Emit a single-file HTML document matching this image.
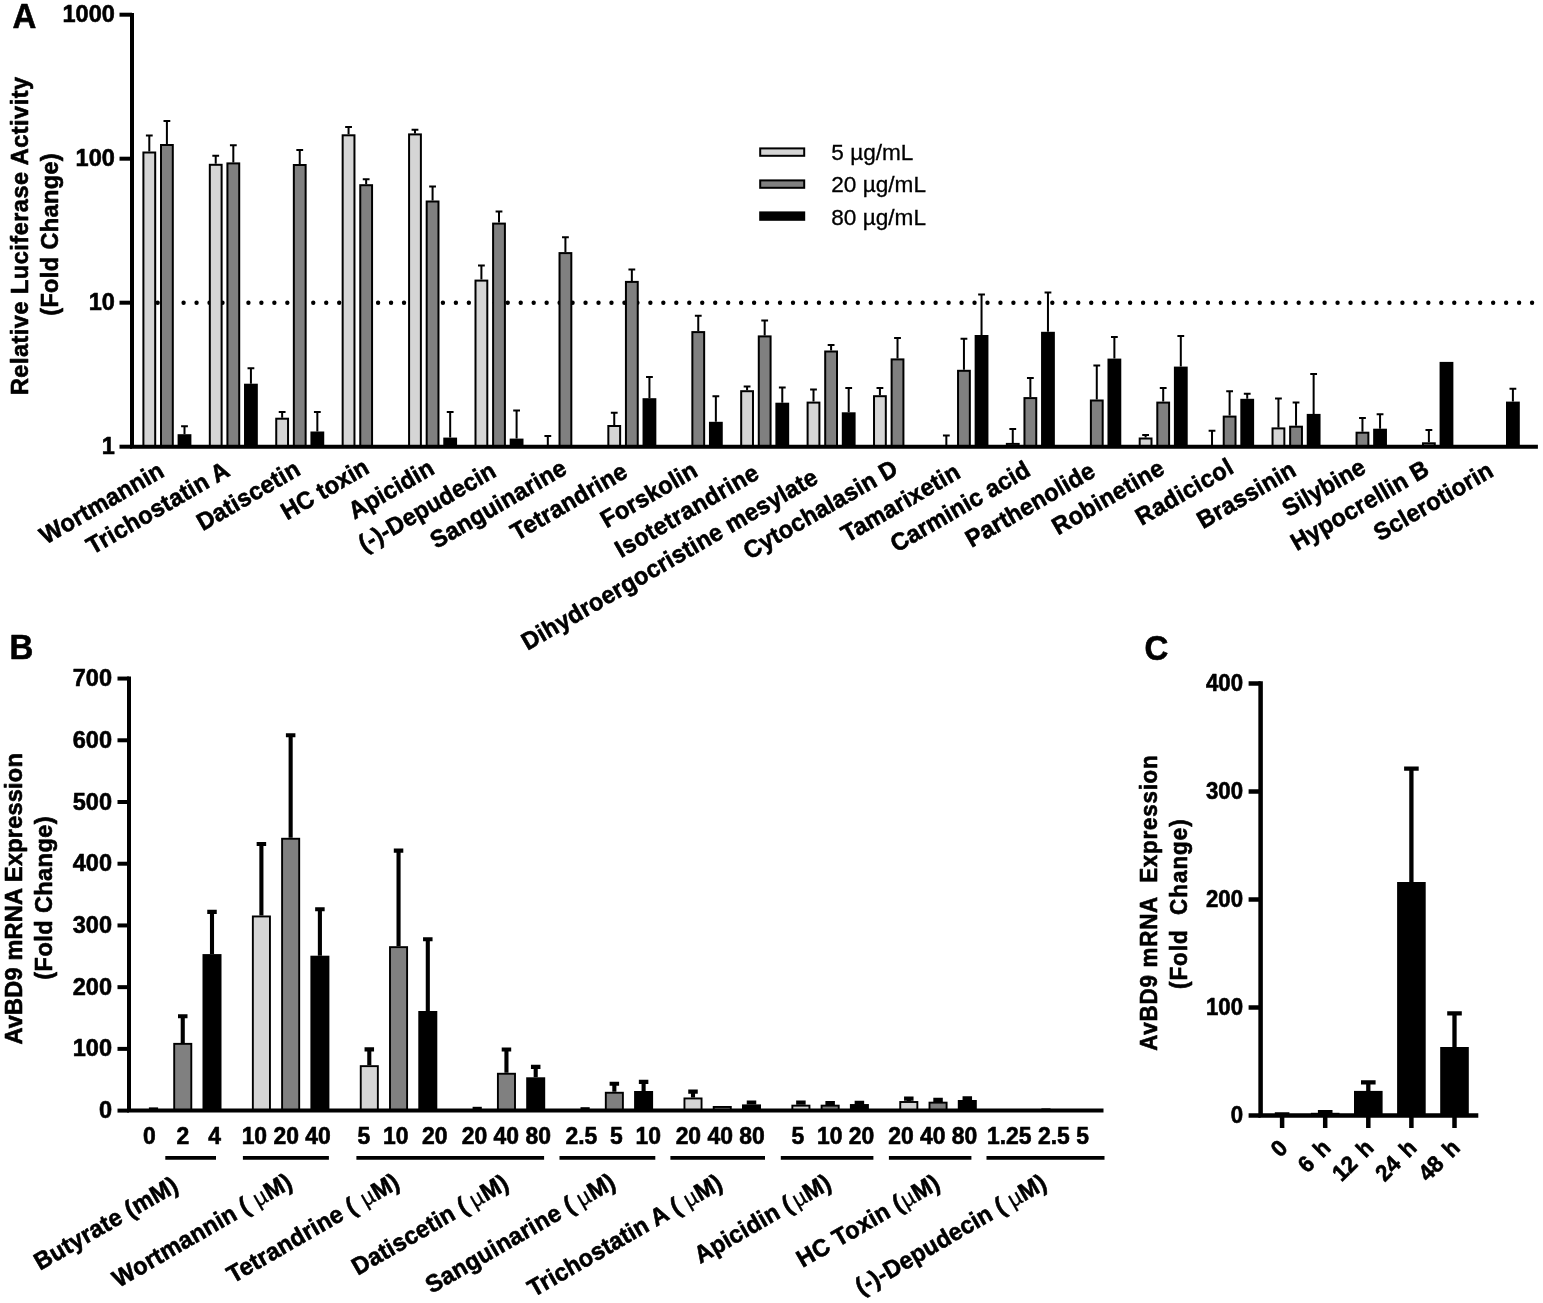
<!DOCTYPE html>
<html lang="en">
<head>
<meta charset="utf-8">
<title>Figure: luciferase activity and AvBD9 mRNA expression</title>
<style>
html,body{margin:0;padding:0;background:#fff;}
body{width:1543px;height:1303px;overflow:hidden;}
svg{display:block;}
text{font-family:"Liberation Sans", Arial, Helvetica, sans-serif;fill:#000;}
.b{font-weight:bold;}
.r{font-weight:normal;}
.b{stroke:#000;stroke-width:0.6px;stroke-linejoin:round;}
.r{stroke:#000;stroke-width:0.3px;}
.tk{font-size:23.5px;}
.tb{font-size:22.9px;}
.ti{font-size:23.5px;}
.tic{font-size:22.4px;}
.ck{font-size:22.2px;}
.cx{word-spacing:3px;}
.xl{font-size:23.5px;}
.lg{font-size:22.6px;}
.mu{font-size:22.5px;}
.pl{font-size:33px;}
</style>
</head>
<body>
<svg width="1543" height="1303" viewBox="0 0 1543 1303">
<rect width="1543" height="1303" fill="#fff"/>
<g id="panelA">
<line x1="157.67" y1="302.7" x2="1533" y2="302.7" stroke="#000" stroke-width="4.4" stroke-linecap="round" stroke-dasharray="0 12.966"/>
<path d="M149.3 151.5V135.4M145.9 135.4H152.7" stroke="#000" stroke-width="2.0" fill="none"/>
<rect x="143.4" y="152.5" width="11.8" height="294.2" fill="#d5d5d5" stroke="#000" stroke-width="2.0"/>
<path d="M166.9 144V120.9M163.5 120.9H170.3" stroke="#000" stroke-width="2.0" fill="none"/>
<rect x="161" y="145" width="11.8" height="301.7" fill="#808080" stroke="#000" stroke-width="2.0"/>
<path d="M184.5 434.2V426.3M181.1 426.3H187.9" stroke="#000" stroke-width="2.0" fill="none"/>
<rect x="178.6" y="435.2" width="11.8" height="11.5" fill="#000" stroke="#000" stroke-width="2.0"/>
<path d="M215.72 163.8V155.8M212.32 155.8H219.12" stroke="#000" stroke-width="2.0" fill="none"/>
<rect x="209.82" y="164.8" width="11.8" height="281.9" fill="#d5d5d5" stroke="#000" stroke-width="2.0"/>
<path d="M233.32 162.4V145.2M229.92 145.2H236.72" stroke="#000" stroke-width="2.0" fill="none"/>
<rect x="227.42" y="163.4" width="11.8" height="283.3" fill="#808080" stroke="#000" stroke-width="2.0"/>
<path d="M250.92 383.7V368.3M247.52 368.3H254.32" stroke="#000" stroke-width="2.0" fill="none"/>
<rect x="245.02" y="384.7" width="11.8" height="62" fill="#000" stroke="#000" stroke-width="2.0"/>
<path d="M282.14 417.7V412M278.74 412H285.54" stroke="#000" stroke-width="2.0" fill="none"/>
<rect x="276.24" y="418.7" width="11.8" height="28" fill="#d5d5d5" stroke="#000" stroke-width="2.0"/>
<path d="M299.74 164V150.1M296.34 150.1H303.14" stroke="#000" stroke-width="2.0" fill="none"/>
<rect x="293.84" y="165" width="11.8" height="281.7" fill="#808080" stroke="#000" stroke-width="2.0"/>
<path d="M317.34 431.5V412M313.94 412H320.74" stroke="#000" stroke-width="2.0" fill="none"/>
<rect x="311.44" y="432.5" width="11.8" height="14.2" fill="#000" stroke="#000" stroke-width="2.0"/>
<path d="M348.56 134.3V127M345.16 127H351.96" stroke="#000" stroke-width="2.0" fill="none"/>
<rect x="342.66" y="135.3" width="11.8" height="311.4" fill="#d5d5d5" stroke="#000" stroke-width="2.0"/>
<path d="M366.16 184.2V179.2M362.76 179.2H369.56" stroke="#000" stroke-width="2.0" fill="none"/>
<rect x="360.26" y="185.2" width="11.8" height="261.5" fill="#808080" stroke="#000" stroke-width="2.0"/>
<path d="M414.98 133.4V129.7M411.58 129.7H418.38" stroke="#000" stroke-width="2.0" fill="none"/>
<rect x="409.08" y="134.4" width="11.8" height="312.3" fill="#d5d5d5" stroke="#000" stroke-width="2.0"/>
<path d="M432.58 200.5V186.4M429.18 186.4H435.98" stroke="#000" stroke-width="2.0" fill="none"/>
<rect x="426.68" y="201.5" width="11.8" height="245.2" fill="#808080" stroke="#000" stroke-width="2.0"/>
<path d="M450.18 437.6V412M446.78 412H453.58" stroke="#000" stroke-width="2.0" fill="none"/>
<rect x="444.28" y="438.6" width="11.8" height="8.1" fill="#000" stroke="#000" stroke-width="2.0"/>
<path d="M481.4 279.6V265.6M478 265.6H484.8" stroke="#000" stroke-width="2.0" fill="none"/>
<rect x="475.5" y="280.6" width="11.8" height="166.1" fill="#d5d5d5" stroke="#000" stroke-width="2.0"/>
<path d="M499 222.6V211.5M495.6 211.5H502.4" stroke="#000" stroke-width="2.0" fill="none"/>
<rect x="493.1" y="223.6" width="11.8" height="223.1" fill="#808080" stroke="#000" stroke-width="2.0"/>
<path d="M516.6 438.6V410.6M513.2 410.6H520" stroke="#000" stroke-width="2.0" fill="none"/>
<rect x="510.7" y="439.6" width="11.8" height="7.1" fill="#000" stroke="#000" stroke-width="2.0"/>
<path d="M547.82 446.7V436M544.42 436H551.22" stroke="#000" stroke-width="2.0" fill="none"/>
<path d="M565.42 252.1V237.2M562.02 237.2H568.82" stroke="#000" stroke-width="2.0" fill="none"/>
<rect x="559.52" y="253.1" width="11.8" height="193.6" fill="#808080" stroke="#000" stroke-width="2.0"/>
<path d="M614.24 425V412.8M610.84 412.8H617.64" stroke="#000" stroke-width="2.0" fill="none"/>
<rect x="608.34" y="426" width="11.8" height="20.7" fill="#d5d5d5" stroke="#000" stroke-width="2.0"/>
<path d="M631.84 280.9V269.5M628.44 269.5H635.24" stroke="#000" stroke-width="2.0" fill="none"/>
<rect x="625.94" y="281.9" width="11.8" height="164.8" fill="#808080" stroke="#000" stroke-width="2.0"/>
<path d="M649.44 398.2V376.9M646.04 376.9H652.84" stroke="#000" stroke-width="2.0" fill="none"/>
<rect x="643.54" y="399.2" width="11.8" height="47.5" fill="#000" stroke="#000" stroke-width="2.0"/>
<path d="M698.26 331.1V315.7M694.86 315.7H701.66" stroke="#000" stroke-width="2.0" fill="none"/>
<rect x="692.36" y="332.1" width="11.8" height="114.6" fill="#808080" stroke="#000" stroke-width="2.0"/>
<path d="M715.86 421.8V396.2M712.46 396.2H719.26" stroke="#000" stroke-width="2.0" fill="none"/>
<rect x="709.96" y="422.8" width="11.8" height="23.9" fill="#000" stroke="#000" stroke-width="2.0"/>
<path d="M747.08 390.2V386.6M743.68 386.6H750.48" stroke="#000" stroke-width="2.0" fill="none"/>
<rect x="741.18" y="391.2" width="11.8" height="55.5" fill="#d5d5d5" stroke="#000" stroke-width="2.0"/>
<path d="M764.68 335.4V320.4M761.28 320.4H768.08" stroke="#000" stroke-width="2.0" fill="none"/>
<rect x="758.78" y="336.4" width="11.8" height="110.3" fill="#808080" stroke="#000" stroke-width="2.0"/>
<path d="M782.28 402.7V387.6M778.88 387.6H785.68" stroke="#000" stroke-width="2.0" fill="none"/>
<rect x="776.38" y="403.7" width="11.8" height="43" fill="#000" stroke="#000" stroke-width="2.0"/>
<path d="M813.5 401.6V389.6M810.1 389.6H816.9" stroke="#000" stroke-width="2.0" fill="none"/>
<rect x="807.6" y="402.6" width="11.8" height="44.1" fill="#d5d5d5" stroke="#000" stroke-width="2.0"/>
<path d="M831.1 350.5V345.1M827.7 345.1H834.5" stroke="#000" stroke-width="2.0" fill="none"/>
<rect x="825.2" y="351.5" width="11.8" height="95.2" fill="#808080" stroke="#000" stroke-width="2.0"/>
<path d="M848.7 412.3V387.9M845.3 387.9H852.1" stroke="#000" stroke-width="2.0" fill="none"/>
<rect x="842.8" y="413.3" width="11.8" height="33.4" fill="#000" stroke="#000" stroke-width="2.0"/>
<path d="M879.92 395.2V387.9M876.52 387.9H883.32" stroke="#000" stroke-width="2.0" fill="none"/>
<rect x="874.02" y="396.2" width="11.8" height="50.5" fill="#d5d5d5" stroke="#000" stroke-width="2.0"/>
<path d="M897.52 358.4V338M894.12 338H900.92" stroke="#000" stroke-width="2.0" fill="none"/>
<rect x="891.62" y="359.4" width="11.8" height="87.3" fill="#808080" stroke="#000" stroke-width="2.0"/>
<path d="M946.34 446.7V435.5M942.94 435.5H949.74" stroke="#000" stroke-width="2.0" fill="none"/>
<path d="M963.94 369.8V338.7M960.54 338.7H967.34" stroke="#000" stroke-width="2.0" fill="none"/>
<rect x="958.04" y="370.8" width="11.8" height="75.9" fill="#808080" stroke="#000" stroke-width="2.0"/>
<path d="M981.54 335V294.6M978.14 294.6H984.94" stroke="#000" stroke-width="2.0" fill="none"/>
<rect x="975.64" y="336" width="11.8" height="110.7" fill="#000" stroke="#000" stroke-width="2.0"/>
<path d="M1012.76 442.9V428.9M1009.36 428.9H1016.16" stroke="#000" stroke-width="2.0" fill="none"/>
<rect x="1006.86" y="443.9" width="11.8" height="2.8" fill="#d5d5d5" stroke="#000" stroke-width="2.0"/>
<path d="M1030.36 397.1V378M1026.96 378H1033.76" stroke="#000" stroke-width="2.0" fill="none"/>
<rect x="1024.46" y="398.1" width="11.8" height="48.6" fill="#808080" stroke="#000" stroke-width="2.0"/>
<path d="M1047.96 331.8V292.5M1044.56 292.5H1051.36" stroke="#000" stroke-width="2.0" fill="none"/>
<rect x="1042.06" y="332.8" width="11.8" height="113.9" fill="#000" stroke="#000" stroke-width="2.0"/>
<path d="M1096.78 399.5V365.5M1093.38 365.5H1100.18" stroke="#000" stroke-width="2.0" fill="none"/>
<rect x="1090.88" y="400.5" width="11.8" height="46.2" fill="#808080" stroke="#000" stroke-width="2.0"/>
<path d="M1114.38 358.6V336.9M1110.98 336.9H1117.78" stroke="#000" stroke-width="2.0" fill="none"/>
<rect x="1108.48" y="359.6" width="11.8" height="87.1" fill="#000" stroke="#000" stroke-width="2.0"/>
<path d="M1145.6 437.5V435.1M1142.2 435.1H1149" stroke="#000" stroke-width="2.0" fill="none"/>
<rect x="1139.7" y="438.5" width="11.8" height="8.2" fill="#d5d5d5" stroke="#000" stroke-width="2.0"/>
<path d="M1163.2 401.6V388.1M1159.8 388.1H1166.6" stroke="#000" stroke-width="2.0" fill="none"/>
<rect x="1157.3" y="402.6" width="11.8" height="44.1" fill="#808080" stroke="#000" stroke-width="2.0"/>
<path d="M1180.8 366.6V336.1M1177.4 336.1H1184.2" stroke="#000" stroke-width="2.0" fill="none"/>
<rect x="1174.9" y="367.6" width="11.8" height="79.1" fill="#000" stroke="#000" stroke-width="2.0"/>
<path d="M1212.02 446.7V430.8M1208.62 430.8H1215.42" stroke="#000" stroke-width="2.0" fill="none"/>
<path d="M1229.62 415.6V391.3M1226.22 391.3H1233.02" stroke="#000" stroke-width="2.0" fill="none"/>
<rect x="1223.72" y="416.6" width="11.8" height="30.1" fill="#808080" stroke="#000" stroke-width="2.0"/>
<path d="M1247.22 398.8V393.7M1243.82 393.7H1250.62" stroke="#000" stroke-width="2.0" fill="none"/>
<rect x="1241.32" y="399.8" width="11.8" height="46.9" fill="#000" stroke="#000" stroke-width="2.0"/>
<path d="M1278.44 427.4V398.4M1275.04 398.4H1281.84" stroke="#000" stroke-width="2.0" fill="none"/>
<rect x="1272.54" y="428.4" width="11.8" height="18.3" fill="#d5d5d5" stroke="#000" stroke-width="2.0"/>
<path d="M1296.04 425.7V402.5M1292.64 402.5H1299.44" stroke="#000" stroke-width="2.0" fill="none"/>
<rect x="1290.14" y="426.7" width="11.8" height="20" fill="#808080" stroke="#000" stroke-width="2.0"/>
<path d="M1313.64 413.9V374.1M1310.24 374.1H1317.04" stroke="#000" stroke-width="2.0" fill="none"/>
<rect x="1307.74" y="414.9" width="11.8" height="31.8" fill="#000" stroke="#000" stroke-width="2.0"/>
<path d="M1362.46 431.7V418.1M1359.06 418.1H1365.86" stroke="#000" stroke-width="2.0" fill="none"/>
<rect x="1356.56" y="432.7" width="11.8" height="14" fill="#808080" stroke="#000" stroke-width="2.0"/>
<path d="M1380.06 428.7V414.3M1376.66 414.3H1383.46" stroke="#000" stroke-width="2.0" fill="none"/>
<rect x="1374.16" y="429.7" width="11.8" height="17" fill="#000" stroke="#000" stroke-width="2.0"/>
<path d="M1428.88 442.3V430M1425.48 430H1432.28" stroke="#000" stroke-width="2.0" fill="none"/>
<rect x="1422.98" y="443.3" width="11.8" height="3.4" fill="#808080" stroke="#000" stroke-width="2.0"/>
<rect x="1440.58" y="362.9" width="11.8" height="83.8" fill="#000" stroke="#000" stroke-width="2.0"/>
<path d="M1512.9 401.6V388.7M1509.5 388.7H1516.3" stroke="#000" stroke-width="2.0" fill="none"/>
<rect x="1507" y="402.6" width="11.8" height="44.1" fill="#000" stroke="#000" stroke-width="2.0"/>
<path d="M132.0 12.9V448.7M130.0 446.7H1537.9" stroke="#000" stroke-width="4.0" fill="none"/>
<line x1="119.5" y1="446.7" x2="132.0" y2="446.7" stroke="#000" stroke-width="4.0"/>
<text transform="translate(114.8,453.7) scale(1,1.04)" text-anchor="end" class="b tk" id="t1">1</text>
<line x1="119.5" y1="302.7" x2="132.0" y2="302.7" stroke="#000" stroke-width="4.0"/>
<text transform="translate(114.8,309.7) scale(1,1.04)" text-anchor="end" class="b tk" id="t2">10</text>
<line x1="119.5" y1="158.7" x2="132.0" y2="158.7" stroke="#000" stroke-width="4.0"/>
<text transform="translate(114.8,165.7) scale(1,1.04)" text-anchor="end" class="b tk" id="t3">100</text>
<line x1="119.5" y1="14.7" x2="132.0" y2="14.7" stroke="#000" stroke-width="4.0"/>
<text transform="translate(114.8,21.7) scale(1,1.04)" text-anchor="end" class="b tk" id="t4">1000</text>
<text transform="translate(27.95,235.78) rotate(-90) scale(1,1.04)" text-anchor="middle" class="b ti" id="YA1" style="letter-spacing:0.5px">Relative Luciferase Activity</text>
<text transform="translate(58.3,234.4) rotate(-90) scale(1,1.04)" text-anchor="middle" class="b ti" id="YA2" style="letter-spacing:0.38px">(Fold Change)</text>
<text transform="translate(165.9,475.35) rotate(-30) scale(1,1.04)" text-anchor="end" class="b xl" id="A0" style="letter-spacing:0.2px">Wortmannin</text>
<text transform="translate(231.42,474.87) rotate(-30) scale(1,1.04)" text-anchor="end" class="b xl" id="A1" style="letter-spacing:0.33px">Trichostatin A</text>
<text transform="translate(302.14,473.8) rotate(-30) scale(1,1.04)" text-anchor="end" class="b xl" id="A2" style="letter-spacing:0.26px">Datiscetin</text>
<text transform="translate(370.76,472.12) rotate(-30) scale(1,1.04)" text-anchor="end" class="b xl" id="A3">HC toxin</text>
<text transform="translate(435.98,472.82) rotate(-30) scale(1,1.04)" text-anchor="end" class="b xl" id="A4" style="letter-spacing:0.17px">Apicidin</text>
<text transform="translate(497.8,475.47) rotate(-30) scale(1,1.04)" text-anchor="end" class="b xl" id="A5" style="letter-spacing:0.19px">(-)-Depudecin</text>
<text transform="translate(568.52,472.8) rotate(-30) scale(1,1.04)" text-anchor="end" class="b xl" id="A6" style="letter-spacing:0.32px">Sanguinarine</text>
<text transform="translate(629.34,476.22) rotate(-30) scale(1,1.04)" text-anchor="end" class="b xl" id="A7" style="letter-spacing:0.23px">Tetrandrine</text>
<text transform="translate(699.26,475.07) rotate(-30) scale(1,1.04)" text-anchor="end" class="b xl" id="A8" style="letter-spacing:0.14px">Forskolin</text>
<text transform="translate(760.88,477.43) rotate(-30) scale(1,1.04)" text-anchor="end" class="b xl" id="A9" style="letter-spacing:0.35px">Isotetrandrine</text>
<text transform="translate(819.9,482.05) rotate(-30) scale(1,1.04)" text-anchor="end" class="b xl" id="A10" style="letter-spacing:0.26px">Dihydroergocristine mesylate</text>
<text transform="translate(899.72,473.14) rotate(-30) scale(1,1.04)" text-anchor="end" class="b xl" id="A11" style="letter-spacing:0.27px">Cytochalasin D</text>
<text transform="translate(962.04,476.68) rotate(-30) scale(1,1.04)" text-anchor="end" class="b xl" id="A12" style="letter-spacing:0.23px">Tamarixetin</text>
<text transform="translate(1032.16,474.55) rotate(-30) scale(1,1.04)" text-anchor="end" class="b xl" id="A13" style="letter-spacing:0.19px">Carminic acid</text>
<text transform="translate(1096.98,475.58) rotate(-30) scale(1,1.04)" text-anchor="end" class="b xl" id="A14" style="letter-spacing:0.21px">Parthenolide</text>
<text transform="translate(1166.4,472.85) rotate(-30) scale(1,1.04)" text-anchor="end" class="b xl" id="A15" style="letter-spacing:0.39px">Robinetine</text>
<text transform="translate(1235.42,471.78) rotate(-30) scale(1,1.04)" text-anchor="end" class="b xl" id="A16" style="letter-spacing:0.43px">Radicicol</text>
<text transform="translate(1298.04,474.49) rotate(-30) scale(1,1.04)" text-anchor="end" class="b xl" id="A17" style="letter-spacing:0.29px">Brassinin</text>
<text transform="translate(1367.46,471.76) rotate(-30) scale(1,1.04)" text-anchor="end" class="b xl" id="A18" style="letter-spacing:0.17px">Silybine</text>
<text transform="translate(1431.08,473.72) rotate(-30) scale(1,1.04)" text-anchor="end" class="b xl" id="A19" style="letter-spacing:0.29px">Hypocrellin B</text>
<text transform="translate(1495.1,475.28) rotate(-30) scale(1,1.04)" text-anchor="end" class="b xl" id="A20" style="letter-spacing:0.21px">Sclerotiorin</text>
<rect x="760.2" y="148.4" width="44" height="7.4" fill="#d5d5d5" stroke="#000" stroke-width="2"/>
<text transform="translate(831.3,160.4) scale(1,1.0)" class="r lg" id="t28">5 µg/mL</text>
<rect x="760.2" y="180.4" width="44" height="7.4" fill="#808080" stroke="#000" stroke-width="2"/>
<text transform="translate(831.3,192.45) scale(1,1.0)" class="r lg" id="t29">20 µg/mL</text>
<rect x="760.2" y="212.4" width="44" height="7.4" fill="#000" stroke="#000" stroke-width="2"/>
<text transform="translate(831.3,224.5) scale(1,1.0)" class="r lg" id="t30">80 µg/mL</text>
<text transform="translate(12.5,27.8) scale(1,1.04)" class="b pl" id="t31">A</text>
</g>
<g id="panelB">
<rect x="148.9" y="1107.4" width="9.2" height="3.2" fill="#000"/>
<path d="M182.75 1042.9V1016.2M178 1016.2H187.5" stroke="#000" stroke-width="4.1" fill="none"/>
<rect x="174.2" y="1043.85" width="17.1" height="66.75" fill="#808080" stroke="#000" stroke-width="1.9"/>
<path d="M212 954.1V911.9M207.25 911.9H216.75" stroke="#000" stroke-width="4.1" fill="none"/>
<rect x="203.45" y="955.05" width="17.1" height="155.55" fill="#000" stroke="#000" stroke-width="1.9"/>
<path d="M261.4 915.5V844M256.65 844H266.15" stroke="#000" stroke-width="4.1" fill="none"/>
<rect x="252.85" y="916.45" width="17.1" height="194.15" fill="#d5d5d5" stroke="#000" stroke-width="1.9"/>
<path d="M290.65 837.8V735.3M285.9 735.3H295.4" stroke="#000" stroke-width="4.1" fill="none"/>
<rect x="282.1" y="838.75" width="17.1" height="271.85" fill="#808080" stroke="#000" stroke-width="1.9"/>
<path d="M319.9 955.7V909.3M315.15 909.3H324.65" stroke="#000" stroke-width="4.1" fill="none"/>
<rect x="311.35" y="956.65" width="17.1" height="153.95" fill="#000" stroke="#000" stroke-width="1.9"/>
<path d="M369.3 1065.2V1049.4M364.55 1049.4H374.05" stroke="#000" stroke-width="4.1" fill="none"/>
<rect x="360.75" y="1066.15" width="17.1" height="44.45" fill="#d5d5d5" stroke="#000" stroke-width="1.9"/>
<path d="M398.55 946.2V850.6M393.8 850.6H403.3" stroke="#000" stroke-width="4.1" fill="none"/>
<rect x="390" y="947.15" width="17.1" height="163.45" fill="#808080" stroke="#000" stroke-width="1.9"/>
<path d="M427.8 1011V939.2M423.05 939.2H432.55" stroke="#000" stroke-width="4.1" fill="none"/>
<rect x="419.25" y="1011.95" width="17.1" height="98.65" fill="#000" stroke="#000" stroke-width="1.9"/>
<rect x="472.6" y="1106.8" width="9.2" height="3.8" fill="#000"/>
<path d="M506.45 1072.8V1049.5M501.7 1049.5H511.2" stroke="#000" stroke-width="4.1" fill="none"/>
<rect x="497.9" y="1073.75" width="17.1" height="36.85" fill="#808080" stroke="#000" stroke-width="1.9"/>
<path d="M535.7 1077.3V1066.9M530.95 1066.9H540.45" stroke="#000" stroke-width="4.1" fill="none"/>
<rect x="527.15" y="1078.25" width="17.1" height="32.35" fill="#000" stroke="#000" stroke-width="1.9"/>
<rect x="580.5" y="1107.2" width="9.2" height="3.4" fill="#000"/>
<path d="M614.35 1091.8V1083.7M609.6 1083.7H619.1" stroke="#000" stroke-width="4.1" fill="none"/>
<rect x="605.8" y="1092.75" width="17.1" height="17.85" fill="#808080" stroke="#000" stroke-width="1.9"/>
<path d="M643.6 1091V1081.9M638.85 1081.9H648.35" stroke="#000" stroke-width="4.1" fill="none"/>
<rect x="635.05" y="1091.95" width="17.1" height="18.65" fill="#000" stroke="#000" stroke-width="1.9"/>
<path d="M693 1097.5V1091.6M688.25 1091.6H697.75" stroke="#000" stroke-width="4.1" fill="none"/>
<rect x="684.45" y="1098.45" width="17.1" height="12.15" fill="#d5d5d5" stroke="#000" stroke-width="1.9"/>
<rect x="713.7" y="1106.95" width="17.1" height="3.65" fill="#808080" stroke="#000" stroke-width="1.9"/>
<path d="M751.5 1104.4V1102.5M746.75 1102.5H756.25" stroke="#000" stroke-width="4.1" fill="none"/>
<rect x="742.95" y="1105.35" width="17.1" height="5.25" fill="#000" stroke="#000" stroke-width="1.9"/>
<path d="M800.9 1104.7V1102.6M796.15 1102.6H805.65" stroke="#000" stroke-width="4.1" fill="none"/>
<rect x="792.35" y="1105.65" width="17.1" height="4.95" fill="#d5d5d5" stroke="#000" stroke-width="1.9"/>
<path d="M830.15 1104.7V1103M825.4 1103H834.9" stroke="#000" stroke-width="4.1" fill="none"/>
<rect x="821.6" y="1105.65" width="17.1" height="4.95" fill="#808080" stroke="#000" stroke-width="1.9"/>
<path d="M859.4 1104.05V1102.8M854.65 1102.8H864.15" stroke="#000" stroke-width="4.1" fill="none"/>
<rect x="850.85" y="1105" width="17.1" height="5.6" fill="#000" stroke="#000" stroke-width="1.9"/>
<path d="M908.8 1101.05V1098.6M904.05 1098.6H913.55" stroke="#000" stroke-width="4.1" fill="none"/>
<rect x="900.25" y="1102" width="17.1" height="8.6" fill="#d5d5d5" stroke="#000" stroke-width="1.9"/>
<path d="M938.05 1101.7V1099.9M933.3 1099.9H942.8" stroke="#000" stroke-width="4.1" fill="none"/>
<rect x="929.5" y="1102.65" width="17.1" height="7.95" fill="#808080" stroke="#000" stroke-width="1.9"/>
<path d="M967.3 1100V1098.2M962.55 1098.2H972.05" stroke="#000" stroke-width="4.1" fill="none"/>
<rect x="958.75" y="1100.95" width="17.1" height="9.65" fill="#000" stroke="#000" stroke-width="1.9"/>
<rect x="1041.35" y="1108.4" width="9.2" height="2.2" fill="#000"/>
<path d="M129.0 676.4V1112.6M127.0 1110.6H1103.5" stroke="#000" stroke-width="4.0" fill="none"/>
<line x1="117.5" y1="1110.6" x2="129.0" y2="1110.6" stroke="#000" stroke-width="4.0"/>
<text transform="translate(112,1118.1) scale(1,1.04)" text-anchor="end" class="b tk" id="t32">0</text>
<line x1="117.5" y1="1048.88" x2="129.0" y2="1048.88" stroke="#000" stroke-width="4.0"/>
<text transform="translate(112,1056.38) scale(1,1.04)" text-anchor="end" class="b tk" id="t33">100</text>
<line x1="117.5" y1="987.16" x2="129.0" y2="987.16" stroke="#000" stroke-width="4.0"/>
<text transform="translate(112,994.66) scale(1,1.04)" text-anchor="end" class="b tk" id="t34">200</text>
<line x1="117.5" y1="925.44" x2="129.0" y2="925.44" stroke="#000" stroke-width="4.0"/>
<text transform="translate(112,932.94) scale(1,1.04)" text-anchor="end" class="b tk" id="t35">300</text>
<line x1="117.5" y1="863.72" x2="129.0" y2="863.72" stroke="#000" stroke-width="4.0"/>
<text transform="translate(112,871.22) scale(1,1.04)" text-anchor="end" class="b tk" id="t36">400</text>
<line x1="117.5" y1="802" x2="129.0" y2="802" stroke="#000" stroke-width="4.0"/>
<text transform="translate(112,809.5) scale(1,1.04)" text-anchor="end" class="b tk" id="t37">500</text>
<line x1="117.5" y1="740.28" x2="129.0" y2="740.28" stroke="#000" stroke-width="4.0"/>
<text transform="translate(112,747.78) scale(1,1.04)" text-anchor="end" class="b tk" id="t38">600</text>
<line x1="117.5" y1="678.56" x2="129.0" y2="678.56" stroke="#000" stroke-width="4.0"/>
<text transform="translate(112,686.06) scale(1,1.04)" text-anchor="end" class="b tk" id="t39">700</text>
<text transform="translate(22,898.8) rotate(-90) scale(1,1.04)" text-anchor="middle" class="b ti" id="YB1" style="letter-spacing:0.23px">AvBD9 mRNA Expression</text>
<text transform="translate(51.8,897.85) rotate(-90) scale(1,1.04)" text-anchor="middle" class="b ti" id="YB2" style="letter-spacing:0.44px">(Fold Change)</text>
<text transform="translate(149.35,1143.9) scale(1,1.04)" text-anchor="middle" class="b tb" xml:space="preserve" id="t42">0</text>
<text transform="translate(198.75,1143.9) scale(1,1.04)" text-anchor="middle" class="b tb" xml:space="preserve" id="t43">2   4</text>
<text transform="translate(286.2,1143.9) scale(1,1.04)" text-anchor="middle" class="b tb" xml:space="preserve" id="t44">10 20 40</text>
<text transform="translate(363.9,1143.9) scale(1,1.04)" text-anchor="middle" class="b tb" xml:space="preserve" id="t45">5</text>
<text transform="translate(395.85,1143.9) scale(1,1.04)" text-anchor="middle" class="b tb" xml:space="preserve" id="t46">10</text>
<text transform="translate(434.75,1143.9) scale(1,1.04)" text-anchor="middle" class="b tb" xml:space="preserve" id="t47">20</text>
<text transform="translate(506.3,1143.9) scale(1,1.04)" text-anchor="middle" class="b tb" xml:space="preserve" id="t48">20 40 80</text>
<text transform="translate(613.2,1143.9) scale(1,1.04)" text-anchor="middle" class="b tb" xml:space="preserve" id="t49">2.5  5  10</text>
<text transform="translate(720.2,1143.9) scale(1,1.04)" text-anchor="middle" class="b tb" xml:space="preserve" id="t50">20 40 80</text>
<text transform="translate(832.85,1143.9) scale(1,1.04)" text-anchor="middle" class="b tb" xml:space="preserve" id="t51">5  10 20</text>
<text transform="translate(932.75,1143.9) scale(1,1.04)" text-anchor="middle" class="b tb" xml:space="preserve" id="t52">20 40 80</text>
<text transform="translate(1037.95,1143.9) scale(1,1.04)" text-anchor="middle" class="b tb" xml:space="preserve" id="t53">1.25 2.5 5</text>
<line x1="165.3" y1="1157.8" x2="216" y2="1157.8" stroke="#000" stroke-width="3.7"/>
<line x1="242.9" y1="1157.8" x2="328.9" y2="1157.8" stroke="#000" stroke-width="3.7"/>
<line x1="356.4" y1="1157.8" x2="544.1" y2="1157.8" stroke="#000" stroke-width="3.7"/>
<line x1="559.5" y1="1157.8" x2="655.3" y2="1157.8" stroke="#000" stroke-width="3.7"/>
<line x1="670.4" y1="1157.8" x2="765" y2="1157.8" stroke="#000" stroke-width="3.7"/>
<line x1="780.8" y1="1157.8" x2="873.4" y2="1157.8" stroke="#000" stroke-width="3.7"/>
<line x1="888.9" y1="1157.8" x2="971.4" y2="1157.8" stroke="#000" stroke-width="3.7"/>
<line x1="986.5" y1="1157.8" x2="1104.5" y2="1157.8" stroke="#000" stroke-width="3.7"/>
<text transform="translate(180,1189.9) rotate(-30) scale(1,1.04)" text-anchor="end" class="b xl" xml:space="preserve" id="B0" style="letter-spacing:0.29px">Butyrate (mM)</text>
<text transform="translate(293.9,1186.6) rotate(-30) scale(1,1.04)" text-anchor="end" class="b xl" xml:space="preserve" id="B1" style="letter-spacing:0.25px">Wortmannin (<tspan class="r mu" dx="7.5">µ</tspan>M)</text>
<text transform="translate(401.3,1186.6) rotate(-30) scale(1,1.04)" text-anchor="end" class="b xl" xml:space="preserve" id="B2" style="letter-spacing:0.23px">Tetrandrine (<tspan class="r mu" dx="8.5">µ</tspan>M)</text>
<text transform="translate(510.4,1187.6) rotate(-30) scale(1,1.04)" text-anchor="end" class="b xl" xml:space="preserve" id="B3" style="letter-spacing:0.25px">Datiscetin (<tspan class="r mu" dx="5.4">µ</tspan>M)</text>
<text transform="translate(617.4,1186.6) rotate(-30) scale(1,1.04)" text-anchor="end" class="b xl" xml:space="preserve" id="B4" style="letter-spacing:0.29px">Sanguinarine (<tspan class="r mu" dx="6.1">µ</tspan>M)</text>
<text transform="translate(724.2,1187.6) rotate(-30) scale(1,1.04)" text-anchor="end" class="b xl" xml:space="preserve" id="B5" style="letter-spacing:0.19px">Trichostatin A (<tspan class="r mu" dx="6.8">µ</tspan>M)</text>
<text transform="translate(832.9,1187.6) rotate(-30) scale(1,1.04)" text-anchor="end" class="b xl" xml:space="preserve" id="B6" style="letter-spacing:0.19px">Apicidin (<tspan class="r mu" dx="3.2">µ</tspan>M)</text>
<text transform="translate(941.8,1187.6) rotate(-30) scale(1,1.04)" text-anchor="end" class="b xl" xml:space="preserve" id="B7" style="letter-spacing:0.29px">HC Toxin (<tspan class="r mu" dx="1">µ</tspan>M)</text>
<text transform="translate(1048.4,1187.6) rotate(-30) scale(1,1.04)" text-anchor="end" class="b xl" xml:space="preserve" id="B8" style="letter-spacing:0.2px">(-)-Depudecin (<tspan class="r mu" dx="6.3">µ</tspan>M)</text>
<text transform="translate(9.5,658.5) scale(1,1.04)" class="b pl" id="t63">B</text>
</g>
<g id="panelC">
<path d="M1282.1 1114.6V1114.3M1274.8 1114.3H1289.4" stroke="#000" stroke-width="4.3" fill="none"/>
<rect x="1267.8" y="1114.6" width="28.6" height="0.9" fill="#000"/>
<line x1="1282.1" y1="1115.5" x2="1282.1" y2="1128" stroke="#000" stroke-width="4.5"/>
<text transform="translate(1289.1,1149.5) rotate(-45) scale(1,1.04)" text-anchor="end" class="b ck cx" id="C0">0</text>
<path d="M1325.2 1112.8V1112.2M1317.9 1112.2H1332.5" stroke="#000" stroke-width="4.3" fill="none"/>
<rect x="1310.9" y="1112.8" width="28.6" height="2.7" fill="#000"/>
<line x1="1325.2" y1="1115.5" x2="1325.2" y2="1128" stroke="#000" stroke-width="4.5"/>
<text transform="translate(1332,1149.1) rotate(-45) scale(1,1.04)" text-anchor="end" class="b ck cx" id="C1">6 h</text>
<path d="M1368.3 1090.9V1082.4M1361 1082.4H1375.6" stroke="#000" stroke-width="4.3" fill="none"/>
<rect x="1354" y="1090.9" width="28.6" height="24.6" fill="#000"/>
<line x1="1368.3" y1="1115.5" x2="1368.3" y2="1128" stroke="#000" stroke-width="4.5"/>
<text transform="translate(1375.1,1149.1) rotate(-45) scale(1,1.04)" text-anchor="end" class="b ck cx" id="C2">12 h</text>
<path d="M1411.4 882V768.7M1404.1 768.7H1418.7" stroke="#000" stroke-width="4.3" fill="none"/>
<rect x="1397.1" y="882" width="28.6" height="233.5" fill="#000"/>
<line x1="1411.4" y1="1115.5" x2="1411.4" y2="1128" stroke="#000" stroke-width="4.5"/>
<text transform="translate(1418.2,1149.1) rotate(-45) scale(1,1.04)" text-anchor="end" class="b ck cx" id="C3">24 h</text>
<path d="M1454.5 1047V1013.3M1447.2 1013.3H1461.8" stroke="#000" stroke-width="4.3" fill="none"/>
<rect x="1440.2" y="1047" width="28.6" height="68.5" fill="#000"/>
<line x1="1454.5" y1="1115.5" x2="1454.5" y2="1128" stroke="#000" stroke-width="4.5"/>
<text transform="translate(1461.3,1149.1) rotate(-45) scale(1,1.04)" text-anchor="end" class="b ck cx" id="C4">48 h</text>
<path d="M1260.6 681.25V1117.75M1258.35 1115.5H1478.3" stroke="#000" stroke-width="4.5" fill="none"/>
<line x1="1248.6" y1="1115.5" x2="1260.6" y2="1115.5" stroke="#000" stroke-width="4.5"/>
<text transform="translate(1243,1123) scale(1,1.04)" text-anchor="end" class="b ck" id="t69">0</text>
<line x1="1248.6" y1="1007.5" x2="1260.6" y2="1007.5" stroke="#000" stroke-width="4.5"/>
<text transform="translate(1243,1015) scale(1,1.04)" text-anchor="end" class="b ck" id="t70">100</text>
<line x1="1248.6" y1="899.5" x2="1260.6" y2="899.5" stroke="#000" stroke-width="4.5"/>
<text transform="translate(1243,907) scale(1,1.04)" text-anchor="end" class="b ck" id="t71">200</text>
<line x1="1248.6" y1="791.5" x2="1260.6" y2="791.5" stroke="#000" stroke-width="4.5"/>
<text transform="translate(1243,799) scale(1,1.04)" text-anchor="end" class="b ck" id="t72">300</text>
<line x1="1248.6" y1="683.5" x2="1260.6" y2="683.5" stroke="#000" stroke-width="4.5"/>
<text transform="translate(1243,691) scale(1,1.04)" text-anchor="end" class="b ck" id="t73">400</text>
<text transform="translate(1157,902.65) rotate(-90) scale(1,1.04)" text-anchor="middle" class="b tic" xml:space="preserve" id="YC1" style="letter-spacing:0.76px">AvBD9 mRNA  Expression</text>
<text transform="translate(1186.5,903.7) rotate(-90) scale(1,1.04)" text-anchor="middle" class="b tic" xml:space="preserve" id="YC2" style="letter-spacing:1px">(Fold  Change)</text>
<text transform="translate(1144.5,660) scale(1,1.04)" class="b pl" id="t76">C</text>
</g>
</svg>
</body>
</html>
